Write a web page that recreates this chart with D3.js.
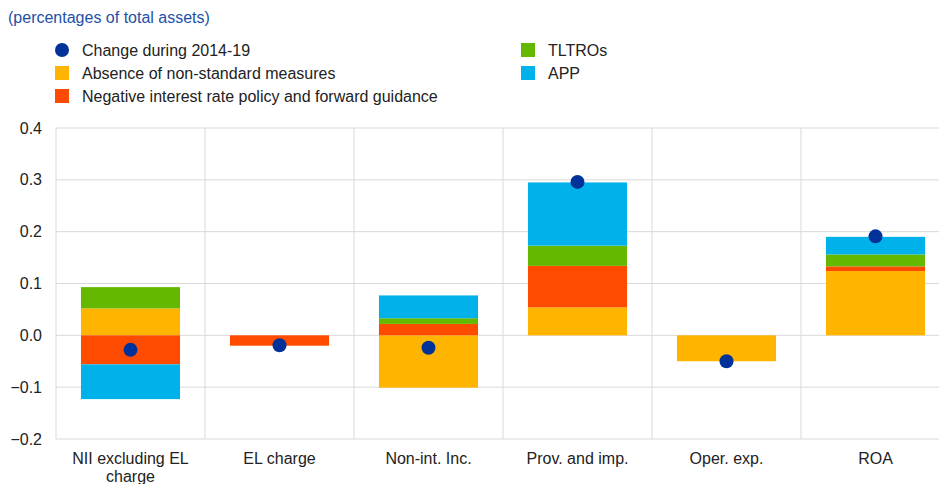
<!DOCTYPE html>
<html>
<head>
<meta charset="utf-8">
<script src="https://cdn.jsdelivr.net/npm/d3@7"></script>
<style>
  body { margin: 0; background: #fff; overflow: hidden; }
  text { font-family: Arial, "Liberation Sans", sans-serif; }
</style>
</head>
<body>
<script>
// categories and series values (percentages of total assets)
var categories = ["NII excluding EL charge", "EL charge", "Non-int. Inc.", "Prov. and imp.", "Oper. exp.", "ROA"];
var absence   = [0.052, 0.000, -0.101, 0.054, -0.050, 0.124];
var negRate   = [-0.056, -0.020, 0.022, 0.080, 0.000, 0.009];
var tltros    = [0.041, 0.000, 0.011, 0.039, 0.000, 0.023];
var app       = [-0.067, 0.000, 0.044, 0.122, 0.000, 0.034];
var change    = [-0.028, -0.019, -0.024, 0.296, -0.050, 0.191];
var yTicks    = [-0.2, -0.1, 0.0, 0.1, 0.2, 0.3, 0.4];

var seriesNames = ["Absence of non-standard measures", "Negative interest rate policy and forward guidance", "TLTROs", "APP"];
var colors = ["#ffb400", "#ff4b00", "#65b800", "#00b1ea"];
var dotColor = "#003299";
var fs = 16;

var margin = {top: 128, right: 0, bottom: 45, left: 56},
    width = 950 - margin.left,
    height = 439 - margin.top;

var svg = d3.select("body").append("svg")
    .attr("width", 939)
    .attr("height", 484);

// subtitle
svg.append("text")
    .attr("x", 8).attr("y", 23)
    .attr("font-size", fs)
    .attr("fill", "#1e50a8")
    .text("(percentages of total assets)");

var g = svg.append("g")
    .attr("transform", "translate(" + margin.left + "," + margin.top + ")");

var x = d3.scaleBand()
    .domain(categories)
    .range([0, width])
    .paddingInner(0.335)
    .paddingOuter(0.1675);

var y = d3.scaleLinear()
    .domain([-0.2, 0.4])
    .range([height, 0]);

// grid
g.selectAll(".hgrid")
    .data(yTicks)
  .enter().append("line")
    .attr("x1", 0).attr("x2", width)
    .attr("y1", function(d) { return y(d); })
    .attr("y2", function(d) { return y(d); })
    .attr("stroke", "#d9d9d9").attr("stroke-width", 1);

var step = x.step();
g.selectAll(".vgrid")
    .data(d3.range(categories.length + 1))
  .enter().append("line")
    .attr("x1", function(i) { return i * step; })
    .attr("x2", function(i) { return i * step; })
    .attr("y1", 0).attr("y2", height)
    .attr("stroke", "#d9d9d9").attr("stroke-width", 1);

// y axis labels
var yAxis = d3.axisLeft(y)
    .tickValues(yTicks)
    .tickSize(0)
    .tickPadding(14)
    .tickFormat(d3.format(".1f"));
var ya = g.append("g").call(yAxis);
ya.select(".domain").remove();
ya.selectAll("text").attr("font-size", fs).attr("fill", "#222");

// stacked bars (positives and negatives stacked separately)
var seriesData = [absence, negRate, tltros, app];
categories.forEach(function(c, i) {
    var pos = 0, neg = 0;
    seriesData.forEach(function(s, k) {
        var v = s[i];
        if (v === 0) return;
        var y0, y1;
        if (v > 0) { y0 = pos; y1 = pos + v; pos = y1; }
        else { y0 = neg; y1 = neg + v; neg = y1; }
        g.append("rect")
            .attr("x", x(c))
            .attr("width", x.bandwidth())
            .attr("y", y(Math.max(y0, y1)))
            .attr("height", Math.abs(y(y0) - y(y1)))
            .attr("fill", colors[k]);
    });
});

// dots
g.selectAll(".dot")
    .data(change)
  .enter().append("circle")
    .attr("cx", function(d, i) { return x(categories[i]) + x.bandwidth() / 2; })
    .attr("cy", function(d) { return y(d); })
    .attr("r", 7)
    .attr("fill", dotColor);

// x labels
var xl = g.selectAll(".xl")
    .data(categories)
  .enter().append("text")
    .attr("text-anchor", "middle")
    .attr("font-size", fs)
    .attr("fill", "#222")
    .attr("transform", function(d) { return "translate(" + (x(d) + x.bandwidth() / 2) + "," + (height + 25) + ")"; });
xl.each(function(d) {
    var t = d3.select(this);
    var lines = d === "NII excluding EL charge" ? ["NII excluding EL", "charge"] : [d];
    lines.forEach(function(l, j) {
        t.append("tspan").attr("x", 0).attr("dy", j === 0 ? 0 : 18).text(l);
    });
});

// legend
var legend = [
    {type: "dot", label: "Change during 2014-19", color: dotColor, x: 55, y: 50},
    {type: "sq", label: seriesNames[0], color: colors[0], x: 55, y: 73},
    {type: "sq", label: seriesNames[1], color: colors[1], x: 55, y: 96},
    {type: "sq", label: seriesNames[2], color: colors[2], x: 521, y: 50},
    {type: "sq", label: seriesNames[3], color: colors[3], x: 521, y: 73}
];
legend.forEach(function(l) {
    if (l.type === "dot") {
        svg.append("circle").attr("cx", l.x + 7).attr("cy", l.y).attr("r", 7).attr("fill", l.color);
    } else {
        svg.append("rect").attr("x", l.x).attr("y", l.y - 7).attr("width", 14).attr("height", 14).attr("fill", l.color);
    }
    svg.append("text")
        .attr("x", l.x + 27).attr("y", l.y + 5.5)
        .attr("font-size", fs).attr("fill", "#222")
        .text(l.label);
});
</script>
</body>
</html>
